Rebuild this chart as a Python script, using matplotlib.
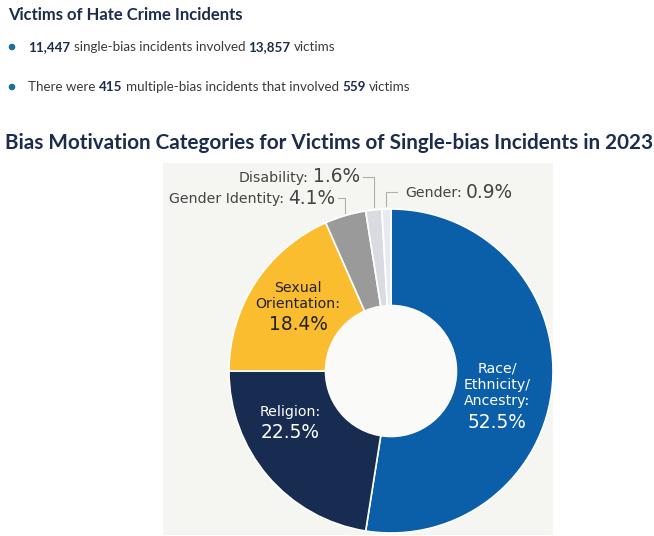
import matplotlib
matplotlib.use("Agg")
from matplotlib import pyplot as plt
from matplotlib.patches import Rectangle, Circle
from matplotlib.transforms import IdentityTransform
import numpy as np

W, H = 654, 536

# bias categories, clockwise from 12 o'clock
categories = ["Race/\nEthnicity/\nAncestry:", "Religion:", "Sexual\nOrientation:",
              "Gender Identity:", "Disability:", "Gender:"]
shares = [52.5, 22.5, 18.4, 4.1, 1.6, 0.9]
colors = ["#0b5ea8", "#172c50", "#fbbd30", "#9a9a9a", "#d8dce1", "#e7ebf1"]

single_incidents = "11,447"
single_victims = "13,857"
multi_incidents = "415"
multi_victims = "559"

NAVY = "#1c2c4c"
BODY = "#3a3a3a"
HEAD_FONT = ["Lato", "DejaVu Sans"]
CHART_FONT = ["DejaVu Sans"]
NAME_SIZE = 10.2
VALUE_SIZE = 13.4

fig = plt.figure(figsize=(W / 100, H / 100), dpi=100)
fig.patch.set_facecolor("white")
px = IdentityTransform()


def text_px(x, y, s, **kw):
    # x, y in pixels measured from the top-left corner
    return fig.text(x, H - y, s, transform=px, **kw)


def draw_runs(x, y, runs, size, family):
    renderer = fig.canvas.get_renderer()
    probe_a = fig.text(0, 0, "x x", size=size, family=family)
    probe_b = fig.text(0, 0, "xx", size=size, family=family)
    space = (probe_a.get_window_extent(renderer).width
             - probe_b.get_window_extent(renderer).width)
    probe_a.remove()
    probe_b.remove()
    for s, weight, color in runs:
        t = text_px(x, y, s, size=size, family=family, weight=weight,
                    color=color, va="center", ha="left")
        x += t.get_window_extent(renderer).width + space


# header block
text_px(8, 15, "Victims of Hate Crime Incidents", size=12, weight="bold",
        family=HEAD_FONT, color=NAVY, va="center")
for yb in (47, 87):
    fig.add_artist(Circle((12, H - yb), 2.6, transform=px, color="#1d6e9c"))
draw_runs(28, 47, [(single_incidents, "bold", NAVY),
                   ("single-bias incidents involved", "normal", BODY),
                   (single_victims, "bold", NAVY),
                   ("victims", "normal", BODY)], 9.6, HEAD_FONT)
draw_runs(28, 87, [("There were", "normal", BODY),
                   (multi_incidents, "bold", NAVY),
                   ("multiple-bias incidents that involved", "normal", BODY),
                   (multi_victims, "bold", NAVY),
                   ("victims", "normal", BODY)], 9.6, HEAD_FONT)

text_px(5, 143, "Bias Motivation Categories for Victims of Single-bias Incidents in 2023",
        size=14.9, weight="bold", family=HEAD_FONT, color=NAVY, va="center")

# chart panel
fig.add_artist(Rectangle((163, H - 535), 390, 372, transform=px,
                         facecolor="#f5f5f1", edgecolor="none", zorder=-5))

# donut
cx, cy, r = 391, 371, 162
ax = fig.add_axes([(cx - r) / W, (H - cy - r) / H, 2 * r / W, 2 * r / H])
wedges, _ = ax.pie(shares, colors=colors, startangle=90, counterclock=False,
                   radius=1.0, wedgeprops=dict(width=0.6, edgecolor="white", linewidth=1.2))
ax.add_patch(Circle((0, 0), 0.405, color="#fafaf8", zorder=3))
ax.set_xlim(-1, 1)
ax.set_ylim(-1, 1)
ax.set_aspect("equal")
ax.axis("off")

# labels inside the big wedges: (x, name y, value y, colour) in pixels
inside = {0: (497, 385, 423, "white"), 1: (290, 412, 432, "white"), 2: (298, 296, 325, "#222222")}
for i, (lx, ny, vy, c) in inside.items():
    text_px(lx, ny, categories[i], size=NAME_SIZE, family=CHART_FONT, color=c,
            ha="center", va="center", linespacing=1.2)
    text_px(lx, vy, f"{shares[i]}%", size=VALUE_SIZE, family=CHART_FONT, color=c,
            ha="center", va="center")

# small wedges: labels with leader lines
outside = {3: (335, 198, "right"), 4: (360, 177, "right"), 5: (405, 192, "left")}
renderer = fig.canvas.get_renderer()
for i, (lx, ly, side) in outside.items():
    w = wedges[i]
    mid = np.deg2rad((w.theta1 + w.theta2) / 2)
    ex, ey = cx + r * np.cos(mid), cy - r * np.sin(mid)
    if side == "right":
        val = text_px(lx, ly, f"{shares[i]}%", size=VALUE_SIZE, family=CHART_FONT,
                      color="#444444", ha="right", va="center")
        vw = val.get_window_extent(renderer).width
        text_px(lx - vw - 4, ly + 1, categories[i], size=NAME_SIZE, family=CHART_FONT,
                color="#444444", ha="right", va="center")
        xs = [lx + 3, ex, ex]
    else:
        name = text_px(lx, ly + 1, categories[i], size=NAME_SIZE, family=CHART_FONT,
                       color="#444444", ha="left", va="center")
        nw = name.get_window_extent(renderer).width
        text_px(lx + nw + 4, ly, f"{shares[i]}%", size=VALUE_SIZE, family=CHART_FONT,
                color="#444444", ha="left", va="center")
        xs = [lx - 8, ex, ex]
    ys = [ly, ly, ey - 3]
    fig.add_artist(plt.Line2D(xs, [H - v for v in ys], transform=px,
                              color="#b0b0b0", linewidth=0.8))

fig.savefig("out.png", dpi=100)
